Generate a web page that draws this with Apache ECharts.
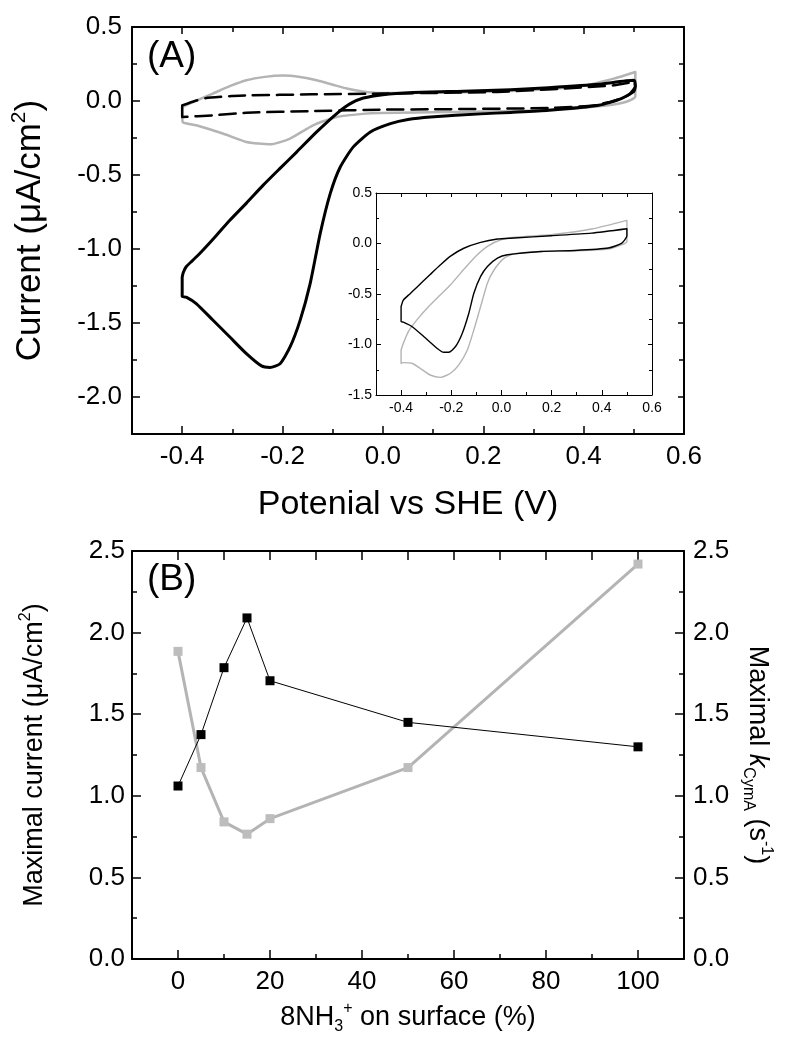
<!DOCTYPE html>
<html><head><meta charset="utf-8">
<script src="https://cdn.jsdelivr.net/npm/echarts@6/dist/echarts.min.js"></script>
<style>html,body{margin:0;padding:0;background:#fff}#c{width:786px;height:1049px}</style>
</head><body><div id="c"></div>
<script>
// ================= DATA =================
// Panel A main: [potential V, current uA/cm2]
const mainBlack = [[-0.4,-1.19],[-0.398,-1.16],[-0.392,-1.12],[-0.38,-1.08],[-0.365,-1.03],[-0.335,-0.92],[-0.305,-0.806],[-0.272,-0.69],[-0.239,-0.57],[-0.205,-0.455],[-0.172,-0.345],[-0.132,-0.209],[-0.092,-0.085],[-0.065,-0.018],[-0.039,0.02],[0.0,0.043],[0.06,0.057],[0.16,0.066],[0.255,0.076],[0.33,0.09],[0.43,0.113],[0.5,0.14],
  [0.503,0.1],[0.5,0.065],[0.475,0.016],[0.43,-0.029],[0.33,-0.063],[0.255,-0.077],[0.195,-0.087],[0.095,-0.108],[0.05,-0.125],[0.015,-0.153],[-0.025,-0.209],[-0.059,-0.31],[-0.085,-0.446],[-0.105,-0.626],[-0.125,-0.896],[-0.145,-1.234],[-0.165,-1.482],[-0.185,-1.662],[-0.205,-1.775],[-0.225,-1.8],[-0.242,-1.79],[-0.272,-1.707],[-0.305,-1.595],[-0.339,-1.48],[-0.372,-1.369],[-0.392,-1.325],[-0.4,-1.32],[-0.4,-1.19]];
const mainGrey = [[-0.4,-0.06],[-0.399,-0.04],[-0.37,0.005],[-0.339,0.05],[-0.305,0.1],[-0.272,0.14],[-0.235,0.163],[-0.199,0.172],[-0.165,0.162],[-0.132,0.14],[-0.1,0.11],[-0.072,0.084],[-0.04,0.064],[-0.005,0.054],[0.1,0.055],[0.195,0.062],[0.3,0.075],[0.395,0.1],[0.46,0.151],[0.503,0.196],
  [0.503,0.03],[0.48,-0.01],[0.43,-0.036],[0.33,-0.063],[0.13,-0.074],[-0.005,-0.081],[-0.04,-0.087],[-0.092,-0.108],[-0.139,-0.164],[-0.185,-0.254],[-0.225,-0.293],[-0.272,-0.277],[-0.319,-0.22],[-0.372,-0.164],[-0.399,-0.142],[-0.4,-0.06]];
const mainDashed = [[-0.4,-0.03],[-0.375,0.0],[-0.352,0.02],[-0.3,0.034],[-0.272,0.038],[-0.14,0.045],[0.0,0.05],[0.228,0.061],[0.36,0.084],[0.46,0.106],[0.5,0.128],
  [0.503,0.1],[0.49,0.04],[0.46,0.0],[0.42,-0.03],[0.33,-0.048],[0.1,-0.056],[0.0,-0.058],[-0.14,-0.068],[-0.272,-0.079],[-0.339,-0.097],[-0.4,-0.108],[-0.4,-0.03]];
// Panel A inset
const insetBlack = [[-0.4,-0.624],[-0.391,-0.56],[-0.365,-0.499],[-0.337,-0.433],[-0.284,-0.307],[-0.243,-0.211],[-0.203,-0.125],[-0.15,-0.047],[-0.083,0.011],[-0.016,0.044],[0.051,0.054],[0.198,0.077],[0.359,0.103],[0.5,0.146],
  [0.5,0.077],[0.48,0.004],[0.426,-0.045],[0.292,-0.069],[0.158,-0.079],[0.024,-0.112],[-0.016,-0.145],[-0.056,-0.227],[-0.083,-0.326],[-0.11,-0.492],[-0.13,-0.69],[-0.156,-0.888],[-0.183,-1.02],[-0.21,-1.077],[-0.23,-1.077],[-0.257,-1.037],[-0.31,-0.921],[-0.357,-0.822],[-0.391,-0.779],[-0.4,-0.773],[-0.4,-0.624]];
const insetGrey = [[-0.4,-1.054],[-0.391,-0.988],[-0.371,-0.872],[-0.337,-0.756],[-0.29,-0.624],[-0.243,-0.508],[-0.203,-0.409],[-0.163,-0.293],[-0.11,-0.145],[-0.056,-0.029],[-0.002,0.037],[0.065,0.064],[0.198,0.087],[0.359,0.143],[0.5,0.229],
  [0.5,0.021],[0.48,-0.012],[0.426,-0.055],[0.292,-0.072],[0.158,-0.079],[0.051,-0.102],[0.011,-0.145],[-0.029,-0.26],[-0.056,-0.393],[-0.083,-0.624],[-0.11,-0.855],[-0.136,-1.054],[-0.17,-1.202],[-0.203,-1.285],[-0.243,-1.325],[-0.284,-1.302],[-0.324,-1.236],[-0.357,-1.186],[-0.391,-1.179],[-0.4,-1.186],[-0.4,-1.054]];
// Panel B
const pctSurface = [0, 5, 10, 15, 20, 50, 100];
const maxCurrent = [1.06, 1.375, 1.785, 2.09, 1.705, 1.45, 1.30];
const maxK = [1.885, 1.173, 0.84, 0.765, 0.86, 1.173, 2.42];
// Tick labels
const topXTicks = [-0.4, -0.2, 0, 0.2, 0.4, 0.6];
const topYTicks = [-2, -1.5, -1, -0.5, 0, 0.5];
const insetXTicks = [-0.4, -0.2, 0, 0.2, 0.4, 0.6];
const insetYTicks = [-1.5, -1, -0.5, 0, 0.5];
const botXTicks = [0, 20, 40, 60, 80, 100];
const botYTicks = [0, 0.5, 1, 1.5, 2, 2.5];

// ================= BUILD =================
const FONT = "'Liberation Sans', Arial, Helvetica, sans-serif";
const grids = [], xAxes = [], yAxes = [];
const f1 = v => v.toFixed(1);
const f0 = v => String(Math.round(v));

function panel(rect, xr, yr, yr2, st) {
  const gA = grids.length; grids.push(Object.assign({containLabel:false}, rect));
  const gB = grids.length; grids.push(Object.assign({containLabel:false}, rect));
  const line = {show:true, onZero:false, lineStyle:{color:'#000', width:st.axisW}};
  const noLine = {show:false, onZero:false};
  const tick = (vals, len) => ({show:true, inside:true, length:len, customValues:vals, lineStyle:{color:'#000', width:st.tickW}});
  const mtick = len => ({show:true, inside:true, length:len, lineStyle:{color:'#000', width:st.tickW}});
  const lab = (r, m) => ({show:true, customValues:r.ticks, formatter:r.fmt, fontSize:st.fs, fontFamily:FONT, color:'#000', margin:m});
  const xi = xAxes.length, yi = yAxes.length;
  const base = r => ({type:'value', min:r.min, max:r.max, interval:r.minor, splitLine:{show:false}});
  xAxes.push(Object.assign(base(xr), {gridIndex:gA, position:'bottom', axisLine:line, axisTick:tick(xr.ticks, st.major), axisLabel:lab(xr, st.xMargin),
    name:xr.name, nameLocation:'middle', nameGap:xr.nameGap, nameTextStyle:xr.nameStyle}));
  xAxes.push(Object.assign(base(xr), {gridIndex:gA, position:'top', axisLine:line, axisTick:tick(xr.ticks, st.topMajor), axisLabel:{show:false}}));
  xAxes.push(Object.assign(base(xr), {gridIndex:gB, position:'bottom', axisLine:noLine, axisTick:mtick(st.minor), axisLabel:{show:false}}));
  xAxes.push(Object.assign(base(xr), {gridIndex:gB, position:'top', axisLine:noLine, axisTick:mtick(st.topMinor), axisLabel:{show:false}}));
  yAxes.push(Object.assign(base(yr), {gridIndex:gA, position:'left', axisLine:line, axisTick:tick(yr.ticks, st.major), axisLabel:lab(yr, st.yMargin),
    name:yr.name, nameLocation:'middle', nameGap:yr.nameGap, nameTextStyle:yr.nameStyle}));
  const r2 = yr2 || yr;
  const right = Object.assign(base(r2), {gridIndex:gA, position:'right', axisLine:line, axisTick:tick(r2.ticks, st.rightMajor), axisLabel: yr2 ? lab(yr2, st.y2Margin) : {show:false}});
  if (yr2) Object.assign(right, {name:yr2.name, nameLocation:'middle', nameGap:yr2.nameGap, nameRotate:-90, nameTextStyle:yr2.nameStyle});
  yAxes.push(right);
  yAxes.push(Object.assign(base(yr), {gridIndex:gB, position:'left', axisLine:noLine, axisTick:mtick(st.minor), axisLabel:{show:false}}));
  yAxes.push(Object.assign(base(r2), {gridIndex:gB, position:'right', axisLine:noLine, axisTick:mtick(st.rightMinor), axisLabel:{show:false}}));
  return {x:xi, y:yi, y2:yi+1};
}

const txt = (size, extra) => Object.assign({fontSize:size, fontFamily:FONT, color:'#000'}, extra || {});

const PA = panel({left:132, top:27, width:552, height:407},
  {min:-0.5, max:0.6, minor:0.1, ticks:topXTicks, fmt:f1, name:'Potenial vs SHE (V)', nameGap:51, nameStyle:txt(34, {lineHeight:40})},
  {min:-2.25, max:0.5, minor:0.25, ticks:topYTicks, fmt:f1, name:'{m|Current (μA/cm}{s|2}{m|)}', nameGap:81,
    nameStyle:txt(35, {rich:{m:txt(35, {lineHeight:42}), s:txt(21, {verticalAlign:'top', lineHeight:20})}})},
  null,
  {axisW:2, tickW:1.5, major:8, minor:5, topMajor:7, topMinor:5, rightMajor:6, rightMinor:5, fs:26, xMargin:10, yMargin:10});

const PI = panel({left:376, top:193, width:276, height:202},
  {min:-0.5, max:0.6, minor:0.1, ticks:insetXTicks, fmt:f1},
  {min:-1.5, max:0.5, minor:0.25, ticks:insetYTicks, fmt:f1},
  null,
  {axisW:1, tickW:1, major:5, minor:3, topMajor:4, topMinor:4, rightMajor:4, rightMinor:3, fs:14, xMargin:6, yMargin:4});

const PB = panel({left:132, top:551, width:552, height:408},
  {min:-10, max:110, minor:10, ticks:botXTicks, fmt:f0, name:'{m|8NH}{b|3}{s|+}{m| on surface (%)}', nameGap:42,
    nameStyle:txt(27, {rich:{m:txt(27, {lineHeight:34}), b:txt(16, {verticalAlign:'bottom', lineHeight:16}), s:txt(16, {verticalAlign:'top', lineHeight:16})}})},
  {min:0, max:2.5, minor:0.25, ticks:botYTicks, fmt:f1, name:'{m|Maximal current (μA/cm}{s|2}{m|)}', nameGap:80,
    nameStyle:txt(27, {rich:{m:txt(27, {lineHeight:34}), s:txt(16, {verticalAlign:'top', lineHeight:16})}})},
  {min:0, max:2.5, minor:0.25, ticks:botYTicks, fmt:f1, name:'{m|Maximal }{i|k}{b|CymA}{m| (s}{s|-1}{m|)}', nameGap:56,
    nameStyle:txt(27, {rich:{m:txt(27, {lineHeight:34}), i:txt(27, {lineHeight:34, fontStyle:'italic'}), b:txt(16, {verticalAlign:'bottom', lineHeight:16}), s:txt(16, {verticalAlign:'top', lineHeight:16})}})},
  {axisW:2, tickW:1.5, major:9, minor:5, topMajor:9, topMinor:9, rightMajor:9, rightMinor:5, fs:26, xMargin:10, yMargin:7, y2Margin:9});

const GREY = '#b4b4b4';
const lineSeries = (p, data, color, width, type) => ({type:'line', xAxisIndex:p.x, yAxisIndex:p.y, data:data, showSymbol:false, symbol:'none',
  smooth:0.2, lineStyle:{color:color, width:width, type:type || 'solid', cap:'round', join:'round'}, silent:true, animation:false, clip:false});

const series = [
  lineSeries(PA, mainGrey, GREY, 2.5),
  Object.assign(lineSeries(PA, mainDashed, '#000', 2.5, [16, 8]), {smooth:0.1}),
  lineSeries(PA, mainBlack, '#000', 3),
  lineSeries(PI, insetGrey, GREY, 1.4),
  lineSeries(PI, insetBlack, '#000', 1.4),
  {type:'line', xAxisIndex:PB.x, yAxisIndex:PB.y2, data:pctSurface.map((x, i) => [x, maxK[i]]), symbol:'rect', symbolSize:9, showSymbol:true,
    itemStyle:{color:'#bdbdbd'}, lineStyle:{color:GREY, width:3}, animation:false},
  {type:'line', xAxisIndex:PB.x, yAxisIndex:PB.y, data:pctSurface.map((x, i) => [x, maxCurrent[i]]), symbol:'rect', symbolSize:9, showSymbol:true,
    itemStyle:{color:'#000'}, lineStyle:{color:'#000', width:1}, animation:false}
];

const chart = echarts.init(document.getElementById('c'), null, {renderer:'canvas'});
chart.setOption({
  animation:false,
  backgroundColor:'#fff',
  grid:grids, xAxis:xAxes, yAxis:yAxes, series:series,
  graphic:[
    {type:'text', left:147, top:38, style:{text:'(A)', font:"37px " + FONT, fill:'#000'}},
    {type:'text', left:147, top:561, style:{text:'(B)', font:"37px " + FONT, fill:'#000'}}
  ]
});
</script></body></html>
